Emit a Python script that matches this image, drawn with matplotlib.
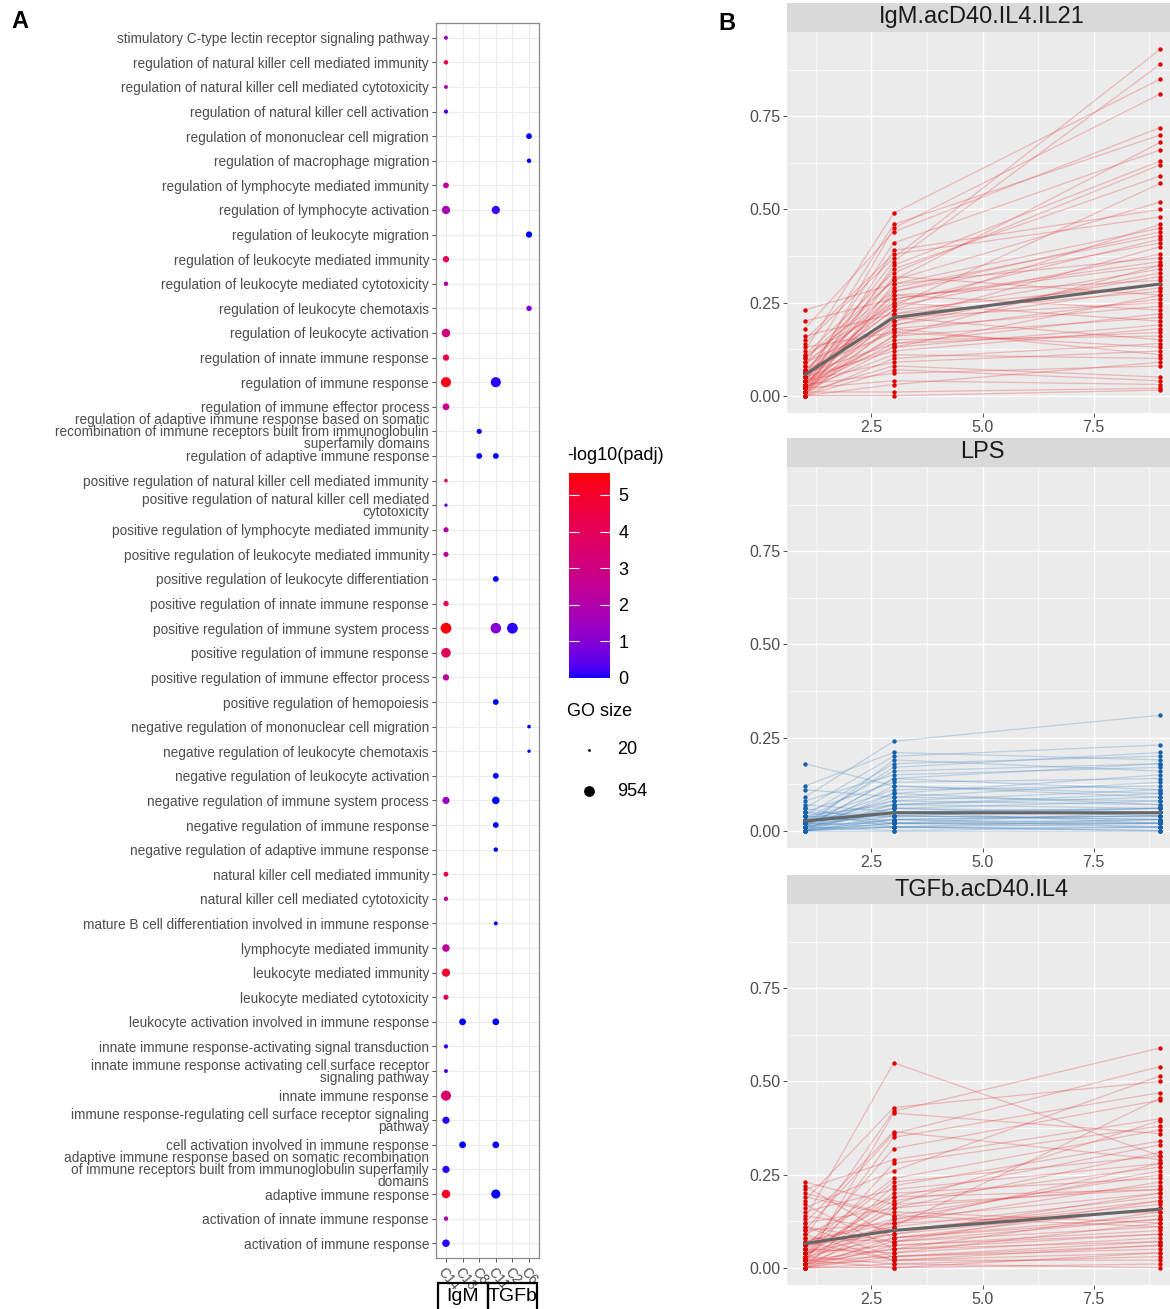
import numpy as np
import matplotlib
matplotlib.use("Agg")
import matplotlib.pyplot as plt
from matplotlib.colors import ListedColormap, Normalize
from matplotlib.patches import Rectangle
import matplotlib.transforms as mtransforms
import matplotlib.colorbar as mcolorbar

plt.rcParams['font.family'] = ['Liberation Sans', 'DejaVu Sans']

# ---------------- Panel A data ----------------
terms = [
    "stimulatory C-type lectin receptor signaling pathway",
    "regulation of natural killer cell mediated immunity",
    "regulation of natural killer cell mediated cytotoxicity",
    "regulation of natural killer cell activation",
    "regulation of mononuclear cell migration",
    "regulation of macrophage migration",
    "regulation of lymphocyte mediated immunity",
    "regulation of lymphocyte activation",
    "regulation of leukocyte migration",
    "regulation of leukocyte mediated immunity",
    "regulation of leukocyte mediated cytotoxicity",
    "regulation of leukocyte chemotaxis",
    "regulation of leukocyte activation",
    "regulation of innate immune response",
    "regulation of immune response",
    "regulation of immune effector process",
    "regulation of adaptive immune response based on somatic\nrecombination of immune receptors built from immunoglobulin\nsuperfamily domains",
    "regulation of adaptive immune response",
    "positive regulation of natural killer cell mediated immunity",
    "positive regulation of natural killer cell mediated\ncytotoxicity",
    "positive regulation of lymphocyte mediated immunity",
    "positive regulation of leukocyte mediated immunity",
    "positive regulation of leukocyte differentiation",
    "positive regulation of innate immune response",
    "positive regulation of immune system process",
    "positive regulation of immune response",
    "positive regulation of immune effector process",
    "positive regulation of hemopoiesis",
    "negative regulation of mononuclear cell migration",
    "negative regulation of leukocyte chemotaxis",
    "negative regulation of leukocyte activation",
    "negative regulation of immune system process",
    "negative regulation of immune response",
    "negative regulation of adaptive immune response",
    "natural killer cell mediated immunity",
    "natural killer cell mediated cytotoxicity",
    "mature B cell differentiation involved in immune response",
    "lymphocyte mediated immunity",
    "leukocyte mediated immunity",
    "leukocyte mediated cytotoxicity",
    "leukocyte activation involved in immune response",
    "innate immune response-activating signal transduction",
    "innate immune response activating cell surface receptor\nsignaling pathway",
    "innate immune response",
    "immune response-regulating cell surface receptor signaling\npathway",
    "cell activation involved in immune response",
    "adaptive immune response based on somatic recombination\nof immune receptors built from immunoglobulin superfamily\ndomains",
    "adaptive immune response",
    "activation of innate immune response",
    "activation of immune response",
]
clusters = ["C14", "C13", "C8", "C11", "C2", "C6"]
cluster_groups = ["IgM", "TGFb"]
group_members = [["C14", "C13", "C8"], ["C11", "C2", "C6"]]

# one entry per dot (row numbers are 1-based, top to bottom)
dot_row = [1, 2, 3, 4, 5, 6, 7, 8, 8, 9,
           10, 11, 12, 13, 14, 15, 15, 16, 17, 18,
           18, 19, 20, 21, 22, 23, 24, 25, 25, 25,
           26, 27, 28, 29, 30, 31, 32, 32, 33, 34,
           35, 36, 37, 38, 39, 40, 41, 41, 42, 43,
           44, 45, 46, 46, 47, 48, 48, 49, 50]
dot_cluster = ["C14", "C14", "C14", "C14", "C6", "C6", "C14", "C14", "C11", "C6",
               "C14", "C14", "C6", "C14", "C14", "C14", "C11", "C14", "C8", "C8",
               "C11", "C14", "C14", "C14", "C14", "C11", "C14", "C14", "C11", "C2",
               "C14", "C14", "C11", "C6", "C6", "C11", "C14", "C11", "C11", "C11",
               "C14", "C14", "C11", "C14", "C14", "C14", "C13", "C11", "C14", "C14",
               "C14", "C14", "C13", "C11", "C14", "C14", "C11", "C14", "C14"]
dot_padj = [1.5, 4.6, 2.0, 0.3, 0.0, 0.0, 2.3, 1.8, 0.2, 0.0,
            3.8, 1.8, 0.8, 3.0, 4.4, 5.3, 0.1, 2.8, 0.0, 0.0,
            0.0, 3.8, 0.6, 2.0, 2.2, 0.0, 4.0, 5.5, 1.0, 0.1,
            3.9, 2.3, 0.0, 0.0, 0.0, 0.0, 1.3, 0.0, 0.0, 0.0,
            4.5, 2.3, 0.0, 2.5, 5.0, 3.8, 0.0, 0.0, 0.2, 0.3,
            3.5, 0.1, 0.0, 0.0, 0.1, 5.2, 0.0, 1.8, 0.1]
dot_gosize = [40, 60, 40, 50, 150, 60, 150, 450, 450, 200,
              200, 60, 120, 500, 200, 800, 800, 250, 100, 150,
              150, 30, 25, 100, 100, 150, 120, 954, 900, 954,
              700, 200, 150, 30, 25, 150, 300, 350, 150, 60,
              80, 60, 40, 350, 450, 100, 250, 250, 50, 40,
              800, 300, 250, 250, 300, 500, 600, 60, 350]
padj_max = 5.6
size_breaks = [20, 954]

# ---------------- Panel B data ----------------
timepoints = [1, 3, 9]
facet_names = ["IgM.acD40.IL4.IL21", "LPS", "TGFb.acD40.IL4"]

igm_t1 = [0.23, 0.20, 0.18, 0.16, 0.14, 0.12, 0.11, 0.10, 0.09, 0.09,
          0.08, 0.08, 0.07, 0.07, 0.06, 0.06, 0.06, 0.05, 0.05, 0.05,
          0.05, 0.04, 0.04, 0.04, 0.04, 0.03, 0.03, 0.03, 0.03, 0.03,
          0.02, 0.02, 0.02, 0.02, 0.02, 0.02, 0.01, 0.01, 0.01, 0.01,
          0.01, 0.01, 0.00, 0.00, 0.00, 0.00, 0.00, 0.13, 0.15, 0.11,
          0.07, 0.05, 0.04, 0.03, 0.02, 0.01, 0.00, 0.10, 0.06, 0.02]
igm_t3 = [0.30, 0.26, 0.44, 0.22, 0.37, 0.49, 0.33, 0.28, 0.25, 0.19,
          0.46, 0.31, 0.24, 0.17, 0.36, 0.21, 0.14, 0.41, 0.29, 0.23,
          0.12, 0.34, 0.26, 0.18, 0.09, 0.45, 0.27, 0.20, 0.15, 0.06,
          0.39, 0.32, 0.22, 0.16, 0.11, 0.04, 0.35, 0.28, 0.21, 0.13,
          0.08, 0.01, 0.30, 0.19, 0.10, 0.03, 0.00, 0.17, 0.38, 0.24,
          0.27, 0.20, 0.13, 0.25, 0.18, 0.16, 0.07, 0.31, 0.23, 0.14]
igm_t9 = [0.45, 0.35, 0.72, 0.28, 0.93, 0.85, 0.62, 0.41, 0.20, 0.33,
          0.70, 0.52, 0.38, 0.26, 0.89, 0.15, 0.22, 0.66, 0.43, 0.30,
          0.18, 0.59, 0.36, 0.24, 0.12, 0.81, 0.31, 0.40, 0.16, 0.08,
          0.50, 0.27, 0.34, 0.21, 0.10, 0.03, 0.63, 0.44, 0.25, 0.19,
          0.05, 0.02, 0.37, 0.29, 0.14, 0.09, 0.015, 0.13, 0.48, 0.57,
          0.23, 0.32, 0.27, 0.42, 0.11, 0.35, 0.04, 0.68, 0.46, 0.17]
igm_mean = [0.056, 0.21, 0.30]

lps_t1 = [0.18, 0.12, 0.11, 0.09, 0.08, 0.07, 0.06, 0.05, 0.05, 0.04,
          0.04, 0.03, 0.03, 0.03, 0.02, 0.02, 0.02, 0.02, 0.01, 0.01,
          0.01, 0.01, 0.01, 0.01, 0.00, 0.00, 0.00, 0.00, 0.00, 0.00,
          0.02, 0.03, 0.04, 0.01, 0.00, 0.02, 0.05, 0.00, 0.01, 0.03,
          0.00, 0.01, 0.02, 0.00, 0.04, 0.00, 0.01, 0.06, 0.00, 0.02]
lps_t3 = [0.12, 0.21, 0.09, 0.24, 0.15, 0.05, 0.20, 0.13, 0.04, 0.18,
          0.07, 0.11, 0.03, 0.16, 0.06, 0.10, 0.02, 0.08, 0.19, 0.05,
          0.03, 0.01, 0.14, 0.06, 0.04, 0.02, 0.00, 0.07, 0.01, 0.03,
          0.17, 0.05, 0.02, 0.09, 0.12, 0.04, 0.01, 0.06, 0.00, 0.08,
          0.02, 0.05, 0.01, 0.10, 0.04, 0.01, 0.14, 0.02, 0.03, 0.07]
lps_t9 = [0.10, 0.19, 0.08, 0.31, 0.17, 0.06, 0.23, 0.14, 0.03, 0.20,
          0.09, 0.12, 0.04, 0.18, 0.05, 0.15, 0.02, 0.07, 0.16, 0.06,
          0.04, 0.01, 0.11, 0.08, 0.03, 0.02, 0.00, 0.10, 0.02, 0.01,
          0.21, 0.05, 0.03, 0.13, 0.09, 0.06, 0.00, 0.04, 0.01, 0.11,
          0.05, 0.02, 0.03, 0.07, 0.04, 0.00, 0.18, 0.01, 0.02, 0.06]
lps_mean = [0.026, 0.048, 0.048]

tgfb_t1 = [0.23, 0.22, 0.21, 0.19, 0.18, 0.17, 0.15, 0.14, 0.13, 0.12,
           0.11, 0.10, 0.10, 0.09, 0.08, 0.08, 0.07, 0.07, 0.06, 0.06,
           0.05, 0.05, 0.05, 0.04, 0.04, 0.04, 0.03, 0.03, 0.03, 0.03,
           0.02, 0.02, 0.02, 0.02, 0.01, 0.01, 0.01, 0.01, 0.01, 0.00,
           0.00, 0.00, 0.00, 0.00, 0.00, 0.16, 0.12, 0.09, 0.06, 0.04,
           0.02, 0.01, 0.00, 0.20, 0.03, 0.11, 0.07, 0.02, 0.05, 0.00]
tgfb_t3 = [0.17, 0.08, 0.29, 0.14, 0.43, 0.05, 0.21, 0.10, 0.55, 0.16,
           0.03, 0.36, 0.12, 0.19, 0.07, 0.42, 0.13, 0.02, 0.24, 0.09,
           0.15, 0.04, 0.32, 0.11, 0.06, 0.18, 0.01, 0.08, 0.35, 0.20,
           0.05, 0.12, 0.28, 0.03, 0.10, 0.16, 0.02, 0.07, 0.415, 0.00,
           0.04, 0.13, 0.01, 0.06, 0.22, 0.26, 0.365, 0.02, 0.11, 0.09,
           0.17, 0.05, 0.03, 0.14, 0.19, 0.07, 0.12, 0.00, 0.23, 0.08]
tgfb_t9 = [0.21, 0.13, 0.40, 0.25, 0.50, 0.09, 0.28, 0.18, 0.30, 0.22,
           0.06, 0.54, 0.15, 0.33, 0.11, 0.59, 0.20, 0.04, 0.37, 0.16,
           0.12, 0.08, 0.45, 0.19, 0.10, 0.27, 0.03, 0.14, 0.47, 0.24,
           0.07, 0.23, 0.38, 0.05, 0.17, 0.31, 0.02, 0.13, 0.36, 0.01,
           0.12, 0.26, 0.00, 0.09, 0.34, 0.515, 0.29, 0.06, 0.455, 0.20,
           0.395, 0.15, 0.07, 0.11, 0.21, 0.18, 0.28, 0.04, 0.30, 0.16]
tgfb_mean = [0.065, 0.10, 0.157]

# ---------------- helpers ----------------
W, H = 1170, 1309
fig = plt.figure(figsize=(W / 100, H / 100), dpi=100)


def box(l, t, r, b):
    return [l / W, 1 - b / H, (r - l) / W, (b - t) / H]


def srgb_to_lab(rgb):
    rgb = np.asarray(rgb, float)
    lin = np.where(rgb <= 0.04045, rgb / 12.92, ((rgb + 0.055) / 1.055) ** 2.4)
    M = np.array([[0.4124, 0.3576, 0.1805], [0.2126, 0.7152, 0.0722], [0.0193, 0.1192, 0.9505]])
    xyz = M @ lin / np.array([0.95047, 1.0, 1.08883])
    d = 6 / 29
    f = np.where(xyz > d ** 3, np.cbrt(xyz), xyz / (3 * d * d) + 4 / 29)
    return np.array([116 * f[1] - 16, 500 * (f[0] - f[1]), 200 * (f[1] - f[2])])


def lab_to_srgb(lab):
    L, a, b = lab
    fy = (L + 16) / 116
    fx = fy + a / 500
    fz = fy - b / 200
    d = 6 / 29
    f = np.array([fx, fy, fz])
    xyz = np.where(f > d, f ** 3, 3 * d * d * (f - 4 / 29)) * np.array([0.95047, 1.0, 1.08883])
    Minv = np.array([[3.2406, -1.5372, -0.4986], [-0.9689, 1.8758, 0.0415], [0.0557, -0.2040, 1.0570]])
    lin = np.clip(Minv @ xyz, 0, 1)
    rgb = np.where(lin <= 0.0031308, 12.92 * lin, 1.055 * lin ** (1 / 2.4) - 0.055)
    return np.clip(rgb, 0, 1)


lab_lo = srgb_to_lab([0, 0, 1])
lab_hi = srgb_to_lab([1, 0, 0])
cols = [lab_to_srgb(lab_lo + (lab_hi - lab_lo) * t) for t in np.linspace(0, 1, 256)]
cmap = ListedColormap(cols)
norm = Normalize(0, padj_max)


def dot_s(g):
    g = np.asarray(g, float)
    d_px = 2.8 + 8.0 * np.sqrt((g - 20) / (954 - 20))
    return (d_px * 0.72) ** 2


# ---------------- Panel A ----------------
n = len(terms)
ax = fig.add_axes(box(436, 23, 539, 1258))
xpos = [clusters.index(c) + 1 for c in dot_cluster]
ypos = [n + 1 - r for r in dot_row]
ax.scatter(xpos, ypos, s=dot_s(dot_gosize), c=dot_padj, cmap=cmap, norm=norm,
           linewidths=0, zorder=3)
ax.set_xlim(0.4, len(clusters) + 0.6)
ax.set_ylim(0.4, n + 0.6)
ax.set_yticks(np.arange(n, 0, -1))
ax.set_yticklabels(terms, fontsize=9.8, color='#4D4D4D', linespacing=0.84)
ax.set_xticks(np.arange(1, len(clusters) + 1))
ax.set_xticklabels(clusters, fontsize=9.8, color='#4D4D4D', rotation=-50,
                   ha='left', va='top', rotation_mode='anchor')
for lbl in ax.get_xticklabels():
    lbl.set_transform(lbl.get_transform() + mtransforms.ScaledTranslation(-8 / 100, 0, fig.dpi_scale_trans))
ax.tick_params(axis='both', length=3, width=0.6, color='#333333', pad=2)
ax.grid(True, color='#EBEBEB', lw=0.8, zorder=0)
ax.set_axisbelow(True)
for sp in ax.spines.values():
    sp.set_color('#8A8A8A')
    sp.set_linewidth(0.9)

# group boxes below x axis
trans = mtransforms.blended_transform_factory(ax.transData, ax.transAxes)
for gname, members in zip(cluster_groups, group_members):
    idx = [clusters.index(m) + 1 for m in members]
    x0, x1 = min(idx) - 0.5, max(idx) + 0.5
    ax.add_patch(Rectangle((x0, -0.07), x1 - x0, 0.05, transform=trans, clip_on=False,
                           fill=False, edgecolor='black', lw=1.6))
    ax.text((x0 + x1) / 2, -0.0315, gname, transform=trans, ha='center', va='center',
            fontsize=14, color='black', clip_on=False)

# colour legend
LEG_FS = 13
fig.text(567 / W, 1 - 455 / H, "-log10(padj)", fontsize=LEG_FS, ha='left', va='center')
cax = fig.add_axes(box(569, 473, 610, 678))
cb = mcolorbar.ColorbarBase(cax, cmap=cmap, norm=norm, orientation='vertical')
cb.outline.set_visible(False)
cb.set_ticks([0, 1, 2, 3, 4, 5])
cax.tick_params(axis='y', direction='in', length=7, width=0.8, color='white',
                left=True, right=True, labelsize=LEG_FS, pad=6)

fig.text(567 / W, 1 - 711 / H, "GO size", fontsize=LEG_FS, ha='left', va='center')
lax = fig.add_axes([0, 0, 1, 1], facecolor='none')
lax.set_xlim(0, W)
lax.set_ylim(H, 0)
lax.axis('off')
for k, g in enumerate(size_breaks):
    yy = 750 + 41 * k
    lax.scatter([589], [yy], s=dot_s([g]), color='black', linewidths=0)
    lax.text(617, yy, str(g), fontsize=LEG_FS, ha='left', va='center')

fig.text(11 / W, 1 - 21 / H, "A", fontsize=17, fontweight='bold', ha='left', va='center')
fig.text(718 / W, 1 - 23 / H, "B", fontsize=17, fontweight='bold', ha='left', va='center')

# ---------------- Panel B ----------------
facet_data = [
    (igm_t1, igm_t3, igm_t9, igm_mean, '#E8383D', '#DD0000'),
    (lps_t1, lps_t3, lps_t9, lps_mean, '#4A8CC8', '#1462AE'),
    (tgfb_t1, tgfb_t3, tgfb_t9, tgfb_mean, '#E8383D', '#DD0000'),
]
strip_tops = [3, 438, 875]
for (t1, t3, t9, mean, lc, pc), name, st in zip(facet_data, facet_names, strip_tops):
    ptop = st + 29
    pbot = ptop + 381
    pax = fig.add_axes(box(787, ptop, 1178, pbot))
    pax.set_facecolor('#EBEBEB')
    vals = np.array([t1, t3, t9])
    for i in range(vals.shape[1]):
        pax.plot(timepoints, vals[:, i], color=lc, alpha=0.3, lw=0.9, zorder=2)
    for j, tp in enumerate(timepoints):
        pax.scatter(np.full(vals.shape[1], tp), vals[j], s=10, color=pc, linewidths=0, zorder=3)
    pax.plot(timepoints, mean, color='#666666', lw=2.2, zorder=4, solid_capstyle='round')
    pax.set_xlim(0.6, 9.4)
    pax.set_ylim(-0.0465, 0.9765)
    pax.set_xticks([2.5, 5.0, 7.5])
    pax.set_xticks([1.25, 3.75, 6.25, 8.75], minor=True)
    pax.set_yticks([0, 0.25, 0.5, 0.75])
    pax.set_yticks([0.125, 0.375, 0.625, 0.875], minor=True)
    pax.set_xticklabels(["2.5", "5.0", "7.5"])
    pax.set_yticklabels(["0.00", "0.25", "0.50", "0.75"])
    pax.tick_params(axis='both', which='major', length=3, width=0.6, color='#333333',
                    labelsize=11.5, labelcolor='#4D4D4D', pad=2)
    pax.tick_params(axis='both', which='minor', length=0)
    pax.grid(True, which='major', color='white', lw=1.0, zorder=0)
    pax.grid(True, which='minor', color='white', lw=0.5, zorder=0)
    pax.set_axisbelow(True)
    for sp in pax.spines.values():
        sp.set_visible(False)
    sax = fig.add_axes(box(787, st, 1178, ptop))
    sax.set_facecolor('#D9D9D9')
    sax.set_xticks([])
    sax.set_yticks([])
    for sp in sax.spines.values():
        sp.set_visible(False)
    sax.text((982 - 787) / (1178 - 787), 0.5, name, transform=sax.transAxes,
             ha='center', va='center', fontsize=17, color='#1A1A1A')

fig.savefig("out.png", dpi=100)
